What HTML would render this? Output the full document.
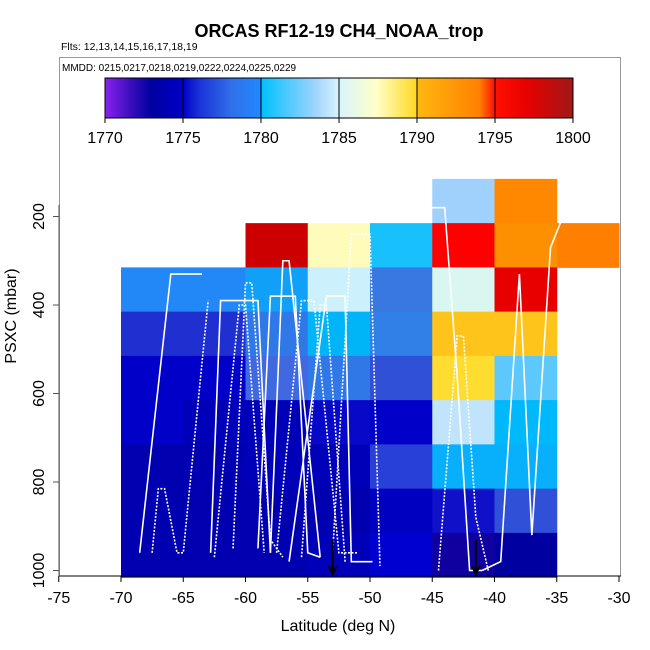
<!DOCTYPE html>
<html><head><meta charset="utf-8"><style>
body{margin:0;background:#fff}
svg{display:block;font-family:"Liberation Sans",sans-serif}
</style></head><body>
<svg id="chart" width="650" height="650" viewBox="0 0 650 650">
<defs>
<linearGradient id="cb" x1="0" x2="1" y1="0" y2="0">
<stop offset="0" stop-color="#8a22f0"/><stop offset="0.05" stop-color="#4010c0"/><stop offset="0.1" stop-color="#0000a0"/>
<stop offset="0.166" stop-color="#0000c8"/><stop offset="0.2" stop-color="#1a30d8"/><stop offset="0.27" stop-color="#3070e8"/>
<stop offset="0.333" stop-color="#2088ff"/><stop offset="0.334" stop-color="#00c0ff"/><stop offset="0.45" stop-color="#a0d4fc"/>
<stop offset="0.5" stop-color="#d8f4fc"/><stop offset="0.58" stop-color="#ffffc8"/><stop offset="0.666" stop-color="#ffd820"/>
<stop offset="0.667" stop-color="#ffb810"/><stop offset="0.8" stop-color="#ff8000"/><stop offset="0.833" stop-color="#ff1000"/>
<stop offset="0.9" stop-color="#e80000"/><stop offset="1" stop-color="#a01818"/></linearGradient>
</defs>
<text x="339" y="37" text-anchor="middle" font-size="18" font-weight="bold">ORCAS RF12-19 CH4_NOAA_trop</text>
<text x="61" y="50" font-size="10.5">Flts: 12,13,14,15,16,17,18,19</text>
<g id="cells"></g>
<g id="tracks"></g>
<rect x="59.5" y="57.5" width="561" height="518.5" fill="none" stroke="#999"/>
<text x="62" y="71" font-size="10">MMDD: 0215,0217,0218,0219,0222,0224,0225,0229</text>
<g>
<rect x="105" y="78" width="468" height="40" fill="url(#cb)" stroke="#000"/>
<g id="cbticks"></g>
</g>
<line x1="59" y1="576" x2="621" y2="576" stroke="#000"/>
<g id="xaxis"></g><g id="yaxis"></g>
<line x1="59" y1="205" x2="59" y2="576" stroke="#555"/>
<text x="338" y="631" text-anchor="middle" font-size="16">Latitude (deg N)</text>
<text transform="translate(16,316) rotate(-90)" text-anchor="middle" font-size="16">PSXC (mbar)</text>
</svg>
<script>
const xTicks=[-75,-70,-65,-60,-55,-50,-45,-40,-35,-30];
const yTicks=[200,400,600,800,1000];
const cbTicks=[1770,1775,1780,1785,1790,1795,1800];
const latBins=[-70,-65,-60,-55,-50,-45,-40,-35];
const presBins=[115,215,315,415,515,615,715,815,915];
const cellColors=[
[null,null,null,null,null,"#a0d0fc","#ff8800",null],
[null,null,"#cc0000","#fffbbb","#18c0fc","#ff0000","#fc9000","#ff8000"],
["#2288f8","#2288f8","#10a0f8","#ccf0fc","#3878e0","#daf6f0","#e80000",null],
["#2030d0","#2030d0","#3078e8","#00b4f8","#3080e8","#ffc41c","#ffc41c",null],
["#0000c8","#0000c8","#4068e0","#3078e8","#3050d8","#ffdc30","#5cc8fc",null],
["#0000c8","#0000b8","#0000b8","#0808c8","#0000c8","#c0e4fc","#00b8fc",null],
["#0000b0","#0000b0","#0000b8","#0000b8","#2840d8","#08b0fc","#08b0fc",null],
["#0000b0","#0000b0","#0000b0","#0000b0","#0000c0","#1010c8","#3050d8",null],
["#0000b0","#0000b0","#0000b0","#0000b8","#0000d0","#1000a0","#0000a0",null]];
const trackLat=[[-68.5,-66,-63.5],[-67.5,-67,-66.5,-65.5,-65,-63],[-62.8,-62,-59,-58],[-61,-60,-59.5,-58,-57],[-59,-58,-56,-55,-54],[-57.5,-55.5,-54.5,-52.5,-51],[-56.5,-53.5,-52,-51.5,-49.8],[-53,-51.5,-50,-49.2],[-47,-45,-44,-43,-42,-41],[-44.5,-43,-42.5,-41.5,-40.5],[-41,-39.5,-38,-37,-35.5,-34.5],[-62.5,-60.5,-60,-58.5],[-58,-57,-56.5,-54],[-55.5,-54,-53.5,-52]];
const trackP=[[960,330,330],[960,815,815,960,960,390],[960,390,390,960],[950,350,350,930,970],[950,380,380,960,970],[960,390,390,960,960],[980,380,380,980,980],[960,240,240,990],[205,180,180,560,1000,1000],[1000,470,470,880,1000],[1000,980,330,920,270,200],[970,400,400,960],[960,300,300,970],[970,400,400,980]];
const arrowLat=[-53,-41.5];
const NS="http://www.w3.org/2000/svg";
const X=v=>121+(v+70)*12.45;
const Y=p=>216.5+(p-200)*0.4425;
const CB=v=>105+(v-1770)*468/30;
function mk(tag,attrs,parent,text){const e=document.createElementNS(NS,tag);for(const k in attrs)e.setAttribute(k,attrs[k]);if(text!==undefined)e.textContent=text;parent.appendChild(e);return e;}
const cells=document.getElementById('cells');
cellColors.forEach((row,r)=>row.forEach((c,i)=>{if(!c)return;
const e=mk('rect',{x:X(latBins[i]),y:Y(presBins[r]),width:X(latBins[i]+5)-X(latBins[i])+0.5,height:Y(presBins[r]+100)-Y(presBins[r])+0.5,fill:c},cells);

}));
const tr=document.getElementById('tracks');
trackLat.forEach((lats,k)=>{const pts=lats.map((v,j)=>X(v)+','+Y(trackP[k][j])).join(' ');
const e=mk('polyline',{points:pts,fill:'none',stroke:'#fff','stroke-width':1.6,'stroke-dasharray':k%2?'2 1.5':'none'},tr);

});
arrowLat.forEach(v=>{const x=X(v);
const e=mk('path',{d:`M${x},540 V574 M${x-4},566 L${x},574 L${x+4},566`,stroke:'#000','stroke-width':2,fill:'none'},tr);

});
const xa=document.getElementById('xaxis');
xTicks.forEach(v=>{mk('line',{x1:X(v),x2:X(v),y1:576,y2:582,stroke:'#000'},xa);
const t=mk('text',{x:X(v),y:603,'text-anchor':'middle','font-size':16},xa,String(v));

});
const ya=document.getElementById('yaxis');
yTicks.forEach(v=>{mk('line',{x1:53,x2:59,y1:Y(v),y2:Y(v),stroke:'#555'},ya);
const t=mk('text',{transform:`translate(44,${Y(v)}) rotate(-90)`,'text-anchor':'middle','font-size':16},ya,String(v));

});
const cb=document.getElementById('cbticks');
cbTicks.forEach(v=>{const x=CB(v);mk('line',{x1:x,x2:x,y1:78,y2:123,stroke:'#000'},cb);
const t=mk('text',{x:x,y:143,'text-anchor':'middle','font-size':16},cb,String(v));

});
</script>
</body></html>
